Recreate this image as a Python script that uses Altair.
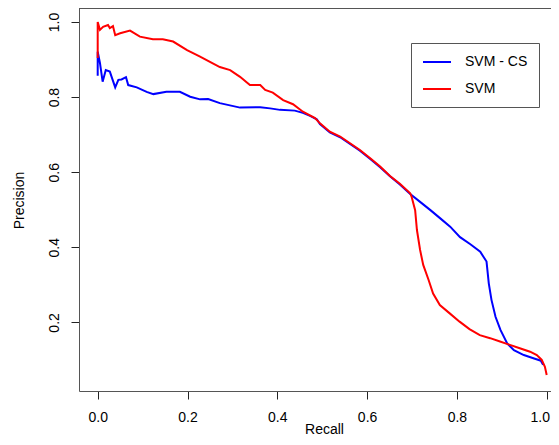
import altair as alt
import pandas as pd

# SVM - CS (blue)
recall_cs = [0.0, 0.0, 0.005, 0.011, 0.018, 0.027, 0.039, 0.046, 0.053, 0.063, 0.068,
             0.087, 0.109, 0.124, 0.153, 0.183, 0.206, 0.228, 0.246, 0.272, 0.317, 0.362,
             0.384, 0.406, 0.439, 0.457, 0.473, 0.488, 0.495, 0.517, 0.540, 0.562, 0.584,
             0.607, 0.629, 0.651, 0.673, 0.696, 0.718, 0.741, 0.763, 0.785, 0.807, 0.830,
             0.852, 0.866, 0.871, 0.877, 0.886, 0.897, 0.912, 0.927, 0.949, 0.972, 0.987,
             0.992]
precision_cs = [0.857, 0.921, 0.891, 0.841, 0.872, 0.868, 0.826, 0.846, 0.847, 0.853, 0.832,
                0.826, 0.814, 0.808, 0.814, 0.814, 0.801, 0.794, 0.795, 0.784, 0.772, 0.773,
                0.770, 0.766, 0.764, 0.758, 0.750, 0.741, 0.728, 0.706, 0.693, 0.675, 0.657,
                0.635, 0.613, 0.589, 0.567, 0.542, 0.521, 0.499, 0.477, 0.455, 0.427, 0.408,
                0.388, 0.362, 0.304, 0.260, 0.215, 0.180, 0.144, 0.126, 0.113, 0.104, 0.098,
                0.087]

# SVM (red)
recall_svm = [0.0, 0.0, 0.005, 0.012, 0.023, 0.027, 0.034, 0.039, 0.050, 0.072, 0.094,
              0.123, 0.145, 0.168, 0.199, 0.228, 0.250, 0.272, 0.295, 0.317, 0.339, 0.362,
              0.373, 0.390, 0.413, 0.435, 0.457, 0.484, 0.495, 0.517, 0.540, 0.562, 0.584,
              0.607, 0.629, 0.651, 0.673, 0.696, 0.699, 0.707, 0.711, 0.718, 0.725, 0.737,
              0.747, 0.762, 0.784, 0.806, 0.828, 0.851, 0.874, 0.896, 0.918, 0.940, 0.963,
              0.978, 0.989, 0.996, 1.0]
precision_svm = [0.904, 1.0, 0.979, 0.987, 0.992, 0.984, 0.989, 0.965, 0.970, 0.977, 0.961,
                 0.954, 0.954, 0.948, 0.925, 0.908, 0.894, 0.880, 0.872, 0.854, 0.832, 0.832,
                 0.819, 0.812, 0.792, 0.781, 0.761, 0.744, 0.730, 0.708, 0.695, 0.677, 0.659,
                 0.637, 0.615, 0.590, 0.569, 0.544, 0.535, 0.499, 0.446, 0.393, 0.353, 0.313,
                 0.277, 0.246, 0.224, 0.202, 0.182, 0.166, 0.158, 0.149, 0.140, 0.131, 0.122,
                 0.113, 0.100, 0.082, 0.060]

series_names = ["SVM - CS", "SVM"]
series_colors = ["#0000ff", "#ff0000"]
x_ticks = [0.0, 0.2, 0.4, 0.6, 0.8, 1.0]
y_ticks = [0.2, 0.4, 0.6, 0.8, 1.0]

df_cs = pd.DataFrame({"recall": recall_cs, "precision": precision_cs,
                      "series": series_names[0], "idx": range(len(recall_cs))})
df_svm = pd.DataFrame({"recall": recall_svm, "precision": precision_svm,
                       "series": series_names[1], "idx": range(len(recall_svm))})

W, H = 472, 383

x_enc = alt.X("recall:Q",
              scale=alt.Scale(domain=[-0.04165, 1.00958], nice=False, zero=False),
              axis=alt.Axis(values=x_ticks, format=".1f", title="Recall",
                            labelPadding=22, labelBaseline="alphabetic",
                            labelOffset={"condition": {"test": "datum.value >= 0.99", "value": -7},
                                         "value": 0},
                            titleBaseline="alphabetic", titleY=42, titleX=245))
y_enc = alt.Y("precision:Q",
              scale=alt.Scale(domain=[0.0173, 1.0373], nice=False, zero=False),
              axis=alt.Axis(values=y_ticks, format=".1f", title="Precision",
                            labelAngle=-90, labelAlign="center", labelBaseline="alphabetic",
                            labelPadding=12.5, titleBaseline="alphabetic", titleX=-56,
                            titleY=192))
color_enc = alt.Color("series:N",
                      scale=alt.Scale(domain=series_names, range=series_colors),
                      legend=alt.Legend(title=None, orient="none", legendX=332, legendY=35,
                                        strokeColor="#555555", fillColor="white",
                                        padding=11, labelFontSize=14, labelOffset=27,
                                        symbolSize=196, symbolStrokeWidth=2,
                                        symbolType="M-1,0H3", rowPadding=12,
                                        labelFont="Liberation Sans", labelColor="#000000"))

line_cs = alt.Chart(df_cs).mark_line(strokeWidth=2).encode(
    x=x_enc, y=y_enc, color=color_enc, order="idx:Q")
line_svm = alt.Chart(df_svm).mark_line(strokeWidth=2).encode(
    x=x_enc, y=y_enc, color=color_enc, order="idx:Q")

frame_top = alt.Chart(pd.DataFrame({"a": [0]})).mark_rule(color="#555555", strokeWidth=1).encode(
    x=alt.value(0), x2=alt.value(W), y=alt.value(0.5))

chart = alt.layer(line_cs, line_svm, frame_top).properties(
    width=W, height=H,
    autosize=alt.AutoSizeParams(type="none"),
    padding={"left": 71, "top": 0, "right": 0, "bottom": 46},
).configure_view(stroke=None).configure_axis(
    grid=False, domainColor="#555555", tickColor="#222222", tickSize=8,
    labelFont="Liberation Sans", titleFont="Liberation Sans",
    labelFontSize=14, titleFontSize=14, titleFontWeight="normal",
    labelColor="#000000", titleColor="#000000",
)

chart.save("out.html", embed_options={"renderer": "svg", "actions": False})
